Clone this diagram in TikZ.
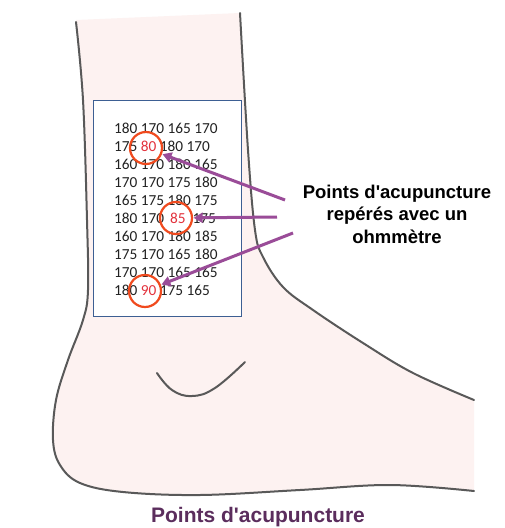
\documentclass[tikz,border=0pt]{standalone}
\usepackage{fontspec}
\setmainfont{Liberation Sans}[Ligatures=TeXOff]
\newfontfamily\numfont{Carlito}
\usetikzlibrary{arrows.meta}
\definecolor{skin}{HTML}{FDF2F1}
\definecolor{outline}{HTML}{595959}
\definecolor{boxblue}{HTML}{3D5F93}
\definecolor{ringred}{HTML}{F04A1E}
\definecolor{numred}{HTML}{E3323C}
\definecolor{numgray}{HTML}{222222}
\definecolor{arrowpurple}{HTML}{9A4C98}
\definecolor{titlepurple}{HTML}{5B2D5D}
\tikzset{
  skinline/.style={draw=outline, line width=2pt, line cap=round},
  ring/.style={circle, draw=ringred, line width=2.2pt, minimum size=32pt, inner sep=0pt},
  row/.style={anchor=base west, inner sep=0pt, text=numgray, font=\numfont\fontsize{15.3}{18}\selectfont},
  pointer/.style={draw=arrowpurple, line width=3pt, -{Triangle[length=9pt,width=10pt]}, shorten >=0.5pt},
}
\newcommand{\rednum}[1]{\textcolor{numred}{#1}}
\begin{document}
\begin{tikzpicture}[x=1pt,y=-1pt]
\useasboundingbox (0,0) rectangle (505,528);
\fill[white] (0,0) rectangle (505,528);

% skin area of the leg and foot
\fill[skin]
  plot[smooth, tension=0.6] coordinates {(76,20) (83,100) (87,220) (88,290) (83,320) (68,360) (56,400) (53,440) (60,465) (80,483) (123,492) (200,495) (300,490) (390,485) (474,491)}
  -- plot[smooth, tension=0.6] coordinates {(474,400) (413,373) (363,343) (313,310) (283,287) (263,257) (255,230) (248,150) (240,13)}
  -- cycle;

% outlines
\draw[skinline] plot[smooth, tension=0.6] coordinates {(76,22) (83,100) (87,220) (88,290) (83,320) (68,360) (56,400) (53,440) (60,465) (80,483) (123,492) (200,495) (300,490) (390,485) (474,491)};
\draw[skinline] plot[smooth, tension=0.6] coordinates {(240,13) (248,150) (255,230) (263,257) (283,287) (313,310) (363,343) (413,373) (474,400)};
% ankle bone
\draw[skinline] plot[smooth, tension=0.7] coordinates {(157,373) (172,390) (192,396) (215,388) (245,362)};

% measurement sheet
\node[draw=boxblue, fill=white, line width=1.8pt, minimum width=148pt, minimum height=216pt, inner sep=0pt] (sheet) at (167.5,208.5) {};

\node[row] (r1)  at (114,133) {180 170 165 170};
\node[row] (r2)  at (114,151) {175 \rednum{80} 180 170};
\node[row] (r3)  at (114,169) {160 170 180 165};
\node[row] (r4)  at (114,187) {170 170 175 180};
\node[row] (r5)  at (114,205) {165 175 180 175};
\node[row] (r6)  at (114,223) {180 170\hspace{6pt}\rednum{85}\hspace{7pt}175};
\node[row] (r7)  at (114,241) {160 170 180 185};
\node[row] (r8)  at (114,259) {175 170 165 180};
\node[row] (r9)  at (114,277) {170 170 165 165};
\node[row] (r10) at (114,295) {180 \rednum{90} 175 165};

% low-resistance points
\node[ring] (p80) at (146,148) {};
\node[ring] (p85) at (176,218) {};
\node[ring] (p90) at (145,291) {};

% caption and pointers
\node[align=center, font=\bfseries\fontsize{18.5}{22.5}\selectfont, inner sep=0pt] (label) at (397,214)
  {Points d'acupuncture\\repérés avec un\\ohmmètre};
\coordinate (s1) at (285,200);
\coordinate (s2) at (277,217);
\coordinate (s3) at (293,233);
\draw[pointer] (s1) -- (p80);
\draw[pointer] (s2) -- (p85);
\draw[pointer] (s3) -- (p90);

% title
\node[anchor=base, inner sep=0pt, text=titlepurple, font=\bfseries\fontsize{21}{24}\selectfont] (title) at (258,522) {Points d'acupuncture};
\end{tikzpicture}
\end{document}
